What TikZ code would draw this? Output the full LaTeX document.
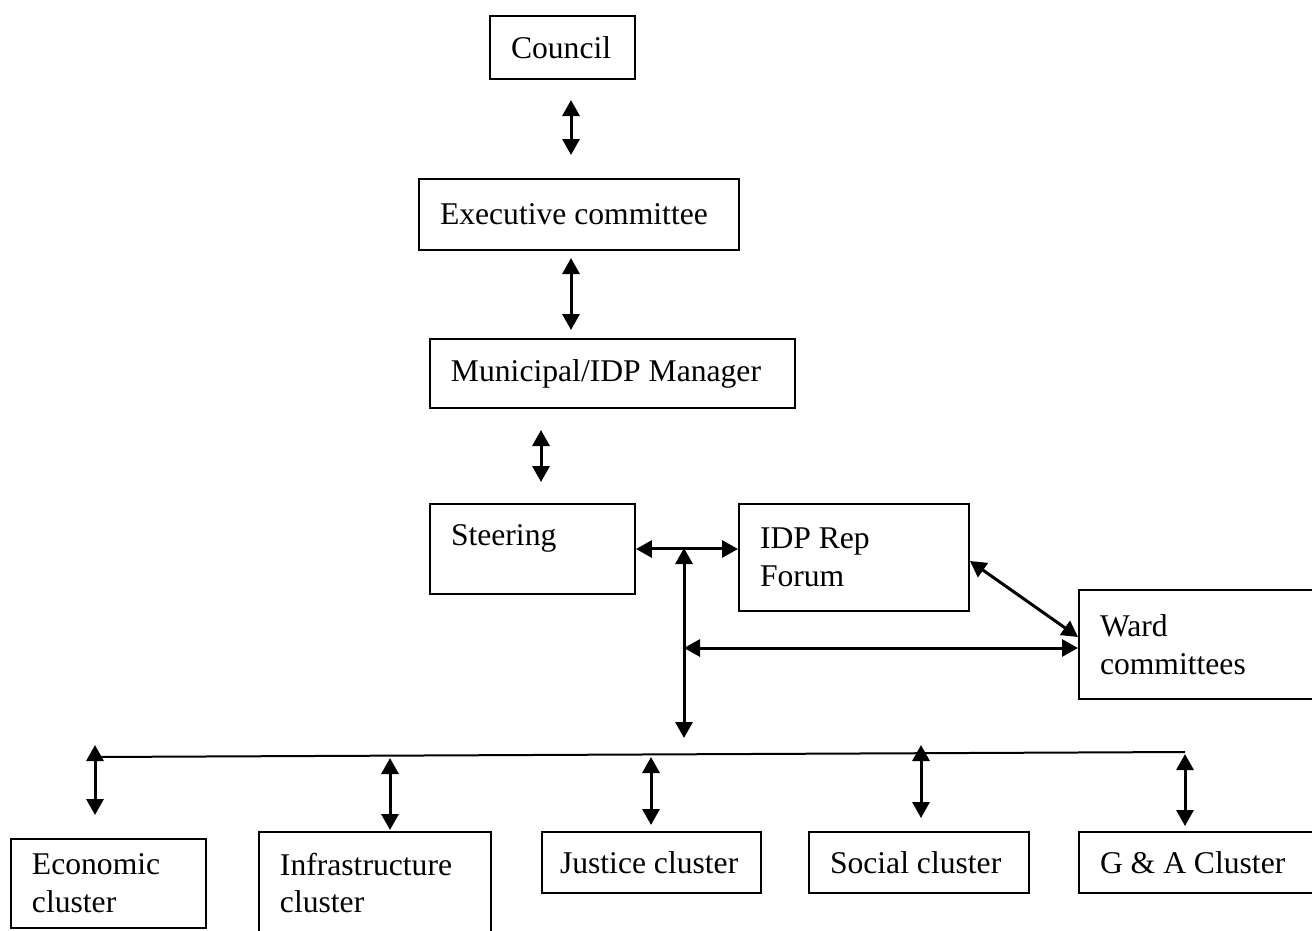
\documentclass[tikz,border=0pt]{standalone}
\usepackage{fontspec}
\setmainfont{Liberation Serif}
\usetikzlibrary{arrows.meta}

\begin{document}
\begin{tikzpicture}[x=0.02cm,y=-0.02cm,
  orgbox/.style={draw, line width=0.04cm, anchor=north west, inner xsep=0.42cm, inner ysep=0pt, align=flush left, font=\fontsize{18}{21.5}\selectfont},
  link/.style={line width=0.06cm, {Triangle[width=0.34cm,length=0.32cm]}-{Triangle[width=0.34cm,length=0.32cm]}}]

\useasboundingbox (0,0) rectangle (1312,930);
\clip (0,0) rectangle (1312,930);

%the chain at the top
\node[orgbox, minimum width=2.9cm, minimum height=1.26cm, text width=2.06cm] (council) at (489,15) {Council};
\node[orgbox, minimum width=6.4cm, minimum height=1.42cm, text width=5.56cm] (exec) at (418,178) {Executive committee};
\node[orgbox, minimum width=7.3cm, minimum height=1.38cm, text width=6.46cm] (mgr) at (429,338) {Municipal/IDP Manager};
\node[orgbox, minimum width=4.1cm, minimum height=1.8cm, text width=3.26cm, text depth=0.55cm] (steer) at (429,503) {Steering};
\node[orgbox, minimum width=4.6cm, minimum height=2.14cm, text width=3.76cm] (forum) at (738,503) {IDP Rep\\Forum};
\node[orgbox, minimum width=6cm, minimum height=2.18cm, text width=5.16cm] (ward) at (1078,589) {Ward\\committees};

%the clusters
\node[orgbox, minimum width=3.9cm, minimum height=1.78cm, text width=3.06cm] (econ) at (10,838) {Economic\\cluster};
\node[orgbox, minimum width=4.64cm, minimum height=2.04cm, text width=3.8cm] (infra) at (258,831) {Infrastructure\\cluster};
\node[orgbox, inner xsep=0.36cm, minimum width=4.38cm, minimum height=1.22cm, text width=3.66cm] (justice) at (541,831) {Justice cluster};
\node[orgbox, minimum width=4.4cm, minimum height=1.22cm, text width=3.56cm] (social) at (808,831) {Social cluster};
\node[orgbox, minimum width=6cm, minimum height=1.22cm, text width=5.16cm] (ga) at (1078,831) {G \& A Cluster};

\coordinate (a1) at (571,100); \coordinate (b1) at (571,155);
\coordinate (a2) at (571,258); \coordinate (b2) at (571,330);
\coordinate (a3) at (541,430); \coordinate (b3) at (541,482);
\coordinate (hub) at (684,548);
\coordinate (hubmid) at (684,648);
\coordinate (hubdown) at (684,738);
\coordinate (busL) at (95,757);
\coordinate (busR) at (1185,752);

\draw[link] (a1) -- (b1);
\draw[link] (a2) -- (b2);
\draw[link] (a3) -- (b3);

\draw[link] (steer.east) -- (steer.east -| forum.west);
\draw[link] (hub) -- (hubdown);
\draw[link] (hubmid) -- (hubmid -| ward.west);
\draw[link] ([yshift=-0.07cm]forum.east) -- ([yshift=0.15cm]ward.west);

%bus line to the clusters
\draw[line width=0.04cm] (busL) -- (busR);

\foreach \n/\x/\ya/\yb in {econ/95/745/815, infra/390/758/830, justice/651/757/825, social/921/745/818, ga/1185/754/826}
{
\coordinate (\n top) at (\x,\ya);
\coordinate (\n bot) at (\x,\yb);
\draw[link] (\n top) -- (\n bot);
}

\end{tikzpicture}
\end{document}
